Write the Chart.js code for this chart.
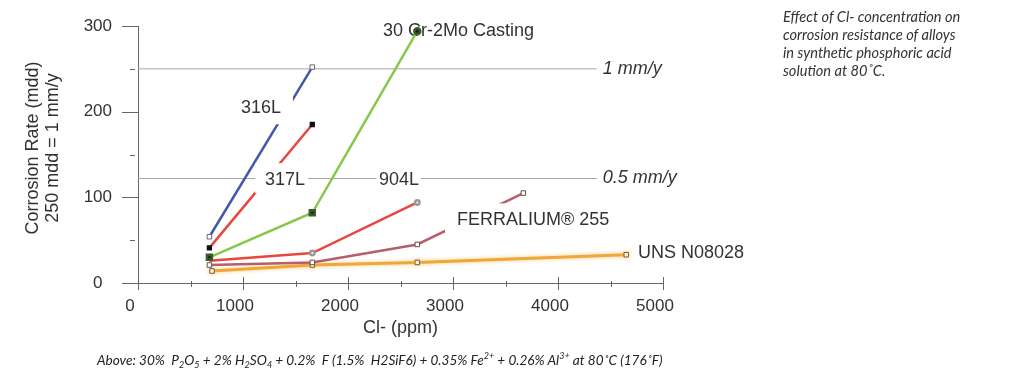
<!DOCTYPE html>
<html>
<head>
<meta charset="utf-8">
<script src="https://cdn.jsdelivr.net/npm/chart.js@4.4.1/dist/chart.umd.min.js"></script>
<style>
  body { margin: 0; background: #fff; }
  #wrap { position: relative; width: 1024px; height: 380px; overflow: hidden; }
  #chart { position: absolute; left: 0; top: 0; }
  #note {
    position: absolute; left: 783px; top: 8px;
    font: italic 14.6px Lato, "Open Sans", sans-serif; line-height: 18px; color: #333;
  }
  #caption {
    position: absolute; left: 97px; top: 350px; white-space: nowrap;
    font: italic 13.6px Lato, "Open Sans", sans-serif; color: #222;
  }
  #caption sub, #caption sup { font-size: 9px; }
</style>
</head>
<body>
<div id="wrap">
  <canvas id="chart" width="1024" height="380"></canvas>
  <div id="note">Effect of Cl- concentration on<br>corrosion resistance of alloys<br>in synthetic phosphoric acid<br>solution at 80˚C.</div>
  <div id="caption">Above: 30%&nbsp; P<sub>2</sub>O<sub>5</sub> + 2% H<sub>2</sub>SO<sub>4</sub> + 0.2%&nbsp; F (1.5%&nbsp; H2SiF6) + 0.35% Fe<sup>2+</sup> + 0.26% Al<sup>3+</sup> at 80˚C (176˚F)</div>
</div>
<script>
// Cl- (ppm) vs corrosion rate (mdd)
const xs316L = [680, 1660];
const ys316L = [54, 252];
const xs317L = [680, 1660];
const ys317L = [41, 185];
const xsCast = [680, 1660, 2660];
const ysCast = [30, 82, 294];
const xs904L = [680, 1660, 2660];
const ys904L = [26, 35, 94];
const xsFerr = [680, 1660, 2660, 3670];
const ysFerr = [21, 24, 45, 105];
const xsUns = [705, 1660, 2660, 4650];
const ysUns = [14, 21, 24, 33];

// 1 mm/y and 0.5 mm/y reference lines
const refValues = [250, 122];
const refNames = ['1 mm/y', '0.5 mm/y'];
const refEnd = 4370;

// in-plot series labels (data coordinates)
const labelText = ['316L', '317L', '904L', '30 Cr-2Mo Casting', 'FERRALIUM® 255', 'UNS N08028'];
const labelX = [980, 1210, 2295, 2333, 3038, 4762];
const labelY = [204, 120, 120, 294, 73, 35];

const yTicks = [0, 100, 200, 300];
const xTicks = [0, 1000, 2000, 3000, 4000, 5000];

const FONT = '"Liberation Sans", Arial, sans-serif';
const pts = (xs, ys) => xs.map((x, i) => ({ x: x, y: ys[i] }));

// white knock-out boxes behind labels (pixel offsets from label anchor)
const labelBoxes = [
    { l: -5, r: 52, t: -12, b: 16 },
    { l: -10, r: 43, t: -17, b: 13 },
    { l: -3, r: 42, t: -9, b: 9 },
    null,
    { l: -12, r: 158, t: -17, b: 12 },
    { l: -3, r: 110, t: -9, b: 9 }
];

const labelPlugin = {
    id: 'seriesLabels',
    beforeDatasetsDraw(chart) {
        const c = chart.ctx, xs = chart.scales.x, ys = chart.scales.y;
        c.save();
        c.font = '18px ' + FONT;
        c.fillStyle = '#333';
        c.textBaseline = 'middle';
        labelText.forEach((t, i) => {
            if (labelBoxes[i]) return;
            c.fillText(t, xs.getPixelForValue(labelX[i]), ys.getPixelForValue(labelY[i]));
        });
        c.restore();
    },
    afterDatasetsDraw(chart) {
        const c = chart.ctx, xs = chart.scales.x, ys = chart.scales.y;
        c.save();
        c.font = '18px ' + FONT;
        c.textBaseline = 'middle';
        labelText.forEach((t, i) => {
            const b = labelBoxes[i];
            if (!b) return;
            const px = xs.getPixelForValue(labelX[i]);
            const py = ys.getPixelForValue(labelY[i]);
            c.fillStyle = '#fff';
            c.fillRect(px + b.l, py + b.t, b.r - b.l, b.b - b.t);
            c.fillStyle = '#333';
            c.fillText(t, px, py);
        });
        // reference line captions
        c.font = 'italic 18px ' + FONT;
        c.fillStyle = '#333';
        refValues.forEach((v, i) => {
            c.fillText(refNames[i], xs.getPixelForValue(refEnd) + 6, ys.getPixelForValue(v));
        });
        c.restore();
    },
    afterDraw(chart) {
        const c = chart.ctx, xs = chart.scales.x, ys = chart.scales.y;
        const area = chart.chartArea;
        c.save();
        c.strokeStyle = '#666';
        c.lineWidth = 1;
        c.beginPath();
        ys.ticks.forEach(t => {
            const y = Math.round(ys.getPixelForValue(t.value)) + 0.5;
            if (t.value % 100 === 0) { c.moveTo(area.left - 16, y); c.lineTo(area.left, y); }
            else { c.moveTo(area.left - 8, y); c.lineTo(area.left - 3, y); }
        });
        xs.ticks.forEach(t => {
            const x = Math.round(xs.getPixelForValue(t.value)) + 0.5;
            if (t.value % 1000 === 0) { c.moveTo(x, area.bottom - 6); c.lineTo(x, area.bottom + 7); }
            else { c.moveTo(x, area.bottom - 2); c.lineTo(x, area.bottom + 4); }
        });
        c.stroke();
        // axis titles
        c.fillStyle = '#333';
        c.font = '18px ' + FONT;
        c.textAlign = 'center';
        c.textBaseline = 'middle';
        c.fillText('Cl- (ppm)', (area.left + area.right) / 2, 328);
        c.translate(0, 148);
        c.rotate(-Math.PI / 2);
        c.fillText('Corrosion Rate (mdd)', 0, 33);
        c.fillText('250 mdd = 1 mm/y', 0, 53);
        c.restore();
    },
    beforeDatasetDraw(chart, args) {
        if (args.meta.label === 'UNS N08028') {
            chart.ctx.save();
            chart.ctx.shadowColor = 'rgba(246, 196, 100, 0.8)';
            chart.ctx.shadowBlur = 4;
        }
    },
    afterDatasetDraw(chart, args) {
        if (args.meta.label === 'UNS N08028') chart.ctx.restore();
    }
};

const openSquare = (color) => ({
    pointStyle: 'rect', pointRadius: 3.2, pointBackgroundColor: '#fff',
    pointBorderColor: color, pointBorderWidth: 1
});

const datasets = [
    Object.assign({ label: '316L', data: pts(xs316L, ys316L), borderColor: '#4558a8', borderWidth: 2.5 }, openSquare('#667')),
    { label: '317L', data: pts(xs317L, ys317L), borderColor: '#e8473f', borderWidth: 2.5,
      pointStyle: 'rect', pointRadius: 2, pointBackgroundColor: '#111', pointBorderColor: '#111' },
    { label: '30 Cr-2Mo Casting', data: pts(xsCast, ysCast), borderColor: '#86c84c', borderWidth: 2.5,
      pointStyle: ['rect', 'rect', 'circle'], pointRadius: [3.5, 3.5, 3], pointBackgroundColor: '#1a2a14', pointBorderColor: '#3a5a2a' },
    { label: '904L', data: pts(xs904L, ys904L), borderColor: '#e8473f', borderWidth: 2.5,
      pointRadius: [0, 2.2, 2.2], pointBackgroundColor: '#fff', pointBorderColor: '#999' },
    Object.assign({ label: 'FERRALIUM® 255', data: pts(xsFerr, ysFerr), borderColor: '#b45f6b', borderWidth: 2.5 }, openSquare('#6a4a44')),
    Object.assign({ label: 'UNS N08028', data: pts(xsUns, ysUns), borderColor: '#f0a63a', borderWidth: 3 }, openSquare('#7a5a30'))
];
refValues.forEach((v, i) => {
    datasets.push({ label: refNames[i], data: [{ x: 0, y: v }, { x: refEnd, y: v }],
        borderColor: '#a8a8a8', borderWidth: 1, pointRadius: 0 });
});

new Chart(document.getElementById('chart').getContext('2d'), {
    type: 'line',
    data: { datasets: datasets },
    options: {
        responsive: false,
        devicePixelRatio: 1,
        animation: false,
        events: [],
        layout: { padding: { top: 26, right: 361, left: 0, bottom: 0 } },
        elements: { line: { tension: 0 } },
        plugins: { legend: { display: false }, tooltip: { enabled: false } },
        scales: {
            x: {
                type: 'linear', min: 0, max: 5000,
                afterFit: (s) => { s.height = 97; s.paddingLeft = 0; s.paddingRight = 0; },
                grid: { drawOnChartArea: false, drawTicks: false },
                border: { color: '#666', width: 1 },
                ticks: {
                    stepSize: 500, padding: 13, labelOffset: -8, color: '#333',
                    font: { family: FONT, size: 17 },
                    callback: (v) => xTicks.includes(v) ? v : ''
                }
            },
            y: {
                min: 0, max: 300,
                afterFit: (s) => { s.width = 138; s.paddingTop = 0; s.paddingBottom = 0; },
                grid: { drawOnChartArea: false, drawTicks: false },
                border: { color: '#666', width: 1 },
                ticks: {
                    stepSize: 50, padding: 26, color: '#333', crossAlign: 'center',
                    font: { family: FONT, size: 17 },
                    callback: (v) => yTicks.includes(v) ? v : ''
                }
            }
        }
    },
    plugins: [labelPlugin]
});
</script>
</body>
</html>
